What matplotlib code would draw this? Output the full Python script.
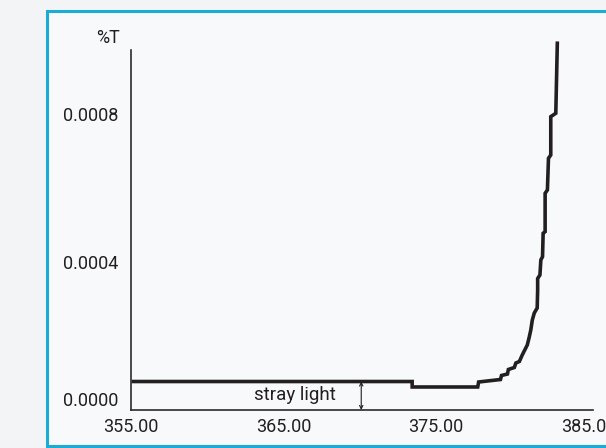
import matplotlib
matplotlib.use("Agg")
import matplotlib.pyplot as plt
from matplotlib.patches import Rectangle

plt.rcParams["font.family"] = ["Roboto", "DejaVu Sans"]
plt.rcParams["font.size"] = 13

# wavelength [nm] and %T
wavelength = [355.16, 373.44, 373.44, 377.74, 377.80, 379.23, 379.30, 379.69,
              379.75, 380.14, 380.24, 380.47, 380.66, 380.99, 381.12, 381.22,
              381.32, 381.45, 381.64, 381.67, 381.67, 381.82, 381.88, 381.99,
              382.03, 382.16, 382.16, 382.31, 382.38, 382.53, 382.53, 382.86,
              382.96]
transmittance = [7.70e-5, 7.70e-5, 6.22e-5, 6.22e-5, 7.57e-5, 8.24e-5, 9.33e-5,
                 9.73e-5, 1.095e-4, 1.149e-4, 1.270e-4, 1.311e-4, 1.487e-4,
                 1.757e-4, 1.973e-4, 2.162e-4, 2.433e-4, 2.622e-4, 2.757e-4,
                 3.244e-4, 3.554e-4, 3.649e-4, 4.055e-4, 4.144e-4, 4.776e-4,
                 4.820e-4, 5.857e-4, 5.947e-4, 6.803e-4, 6.893e-4, 7.928e-4,
                 8.020e-4, 9.912e-4]

x_ticks = [355, 365, 375, 385]
x_labels = ["355.00", "365.00", "375.00", "385.00"]
y_ticks = [0.0, 0.0004, 0.0008]
y_labels = ["0.0000", "0.0004", "0.0008"]

stray_x = 370.1
stray_level = 7.70e-5

W, H = 606, 448
fig = plt.figure(figsize=(W / 100, H / 100), dpi=100)
fig.patch.set_facecolor("#f2f4f6")

# blue frame, runs off the right edge
frame = Rectangle((47 / W, 1 - 446 / H), 600 / W, 435 / H, transform=fig.transFigure,
                  facecolor="#f8f9fa", edgecolor="#1aacd4", linewidth=2.2, zorder=-5)
fig.patches.append(frame)

ax = fig.add_axes([131 / W, 1 - 410 / H, (593 - 131) / W, (410 - 40) / H])
ax.set_zorder(2)
ax.set_facecolor("none")

ax.plot(wavelength, transmittance, color="#231f20", linewidth=2.6,
        solid_joinstyle="miter", clip_on=False)

ax.set_xlim(355.25, 385.3)
ax.set_ylim(0, 0.001)
for s in ["top", "right"]:
    ax.spines[s].set_visible(False)
for s in ["left", "bottom"]:
    ax.spines[s].set_color("#2b2b2b")
    ax.spines[s].set_linewidth(1.2)
ax.spines["left"].set_bounds(0, 0.000973)

ax.set_xticks(x_ticks)
ax.set_xticklabels(x_labels)
ax.set_yticks(y_ticks)
ax.set_yticklabels(y_labels)
ax.tick_params(axis="both", length=0, colors="#231f20")
ax.tick_params(axis="x", pad=6)
ax.tick_params(axis="y", pad=9)
ax.get_yticklabels()[0].set_verticalalignment("bottom")

fig.text(120 / W, 1 - 38 / H, "%T", ha="right", va="center", color="#231f20", zorder=3)

# stray light marker
ax.annotate("", xy=(stray_x, 0), xytext=(stray_x, stray_level),
            arrowprops=dict(arrowstyle="<->", color="#231f20", lw=0.8,
                            shrinkA=0, shrinkB=0, mutation_scale=6))
ax.text(365.76, 4.05e-5, "stray light", ha="center", va="center", color="#231f20",
        fontsize=13.5)

plt.savefig("out.png", dpi=100, facecolor=fig.get_facecolor())
plt.close()
